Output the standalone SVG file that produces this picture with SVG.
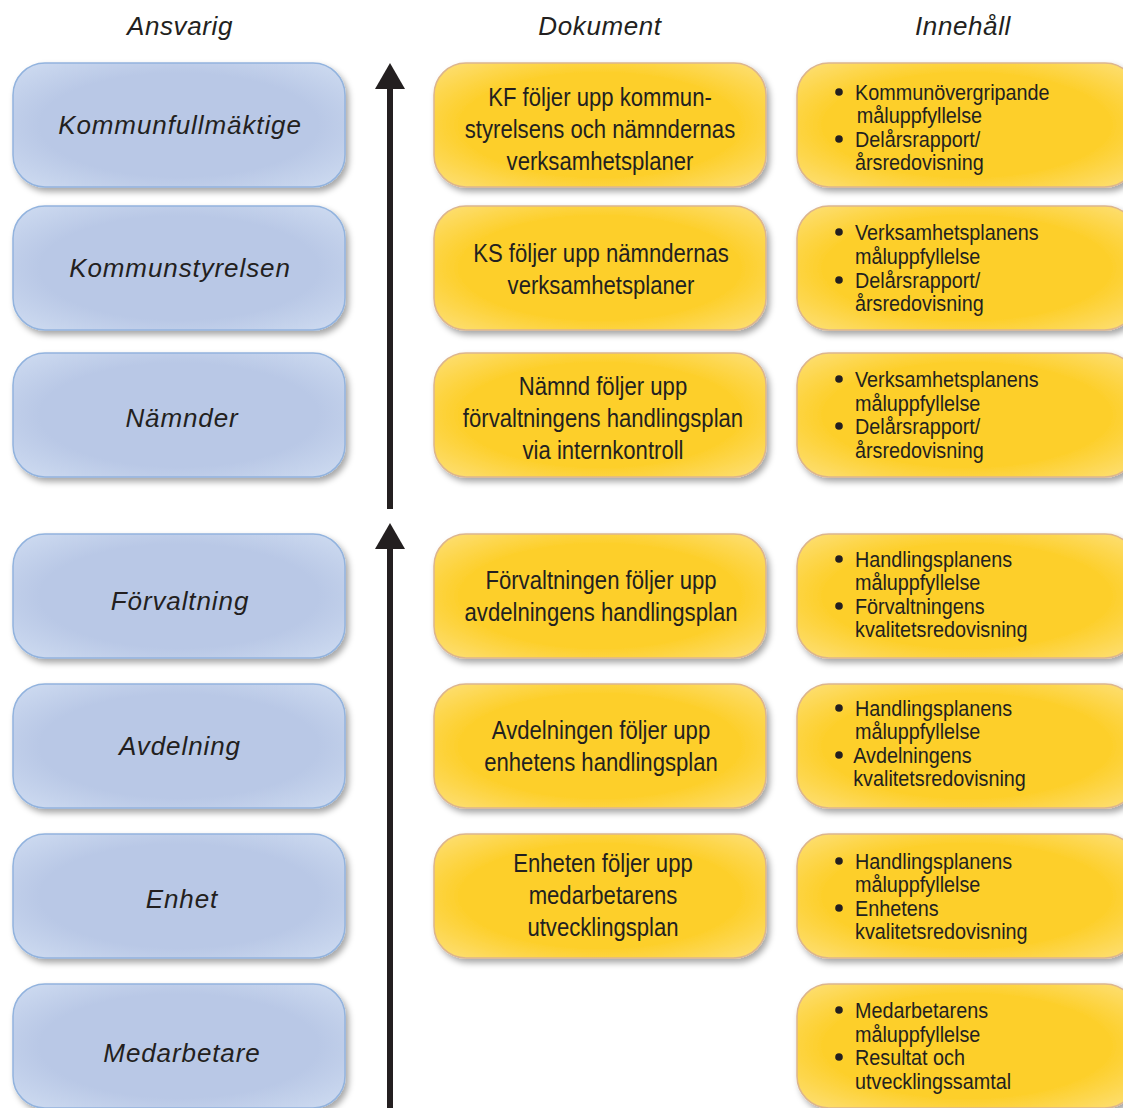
<svg xmlns="http://www.w3.org/2000/svg" width="1123" height="1108" viewBox="0 0 1123 1108">
<defs>
<filter id="sh" x="-10%" y="-10%" width="125%" height="130%">
<feDropShadow dx="3" dy="4" stdDeviation="3" flood-color="#000" flood-opacity="0.35"/>
</filter>
<radialGradient id="bg" cx="50%" cy="50%" r="70%">
<stop offset="0.6" stop-color="#b9c8e6"/>
<stop offset="1" stop-color="#cfdcf1"/>
</radialGradient>
<radialGradient id="yg" cx="50%" cy="50%" r="70%">
<stop offset="0.6" stop-color="#fdcf2a"/>
<stop offset="1" stop-color="#fde07a"/>
</radialGradient>
<style>
.b{fill:url(#bg);stroke:#92b3de;stroke-width:1.5;filter:url(#sh)}
.y{fill:url(#yg);stroke:#dcb58e;stroke-width:1.5;filter:url(#sh)}
.h{font-family:"Liberation Sans",Arial,sans-serif;font-style:italic;font-size:26px;letter-spacing:0.6px;fill:#231f20;text-anchor:middle}
.bt{font-family:"Liberation Sans",Arial,sans-serif;font-style:italic;font-size:26px;letter-spacing:0.9px;fill:#231f20;text-anchor:middle}
.dt{font-family:"Liberation Sans",Arial,sans-serif;font-size:25px;fill:#231f20;text-anchor:middle}
.it{font-family:"Liberation Sans",Arial,sans-serif;font-size:22px;fill:#231f20}
.dot{fill:#231f20}
</style>
</defs>
<rect width="1123" height="1108" fill="#fff"/>
<g id="headers">
<text class="h" x="180" y="35">Ansvarig</text>
<text class="h" x="600" y="35">Dokument</text>
<text class="h" x="963" y="35">Innehåll</text>
</g>
<g id="connectors">
<line x1="390" y1="86" x2="390" y2="509" stroke="#231f20" stroke-width="6"/>
<polygon points="390,63 375,89 405,89" fill="#231f20"/>
<line x1="390" y1="546" x2="390" y2="1108" stroke="#231f20" stroke-width="6"/>
<polygon points="390,523 375,549 405,549" fill="#231f20"/>
</g>
<g id="ansvarig-kf"><rect class="b" x="13" y="63" width="332" height="124" rx="32"/><text class="bt" x="180" y="134">Kommunfullmäktige</text></g>
<g id="ansvarig-ks"><rect class="b" x="13" y="206" width="332" height="124" rx="32"/><text class="bt" x="180" y="277">Kommunstyrelsen</text></g>
<g id="ansvarig-namnder"><rect class="b" x="13" y="353" width="332" height="124" rx="32"/><text class="bt" x="182" y="427">Nämnder</text></g>
<g id="ansvarig-forvaltning"><rect class="b" x="13" y="534" width="332" height="124" rx="32"/><text class="bt" x="180" y="610">Förvaltning</text></g>
<g id="ansvarig-avdelning"><rect class="b" x="13" y="684" width="332" height="124" rx="32"/><text class="bt" x="180" y="755">Avdelning</text></g>
<g id="ansvarig-enhet"><rect class="b" x="13" y="834" width="332" height="124" rx="32"/><text class="bt" x="182" y="908">Enhet</text></g>
<g id="ansvarig-medarbetare"><rect class="b" x="13" y="984" width="332" height="124" rx="32"/><text class="bt" x="182" y="1062">Medarbetare</text></g>

<g id="dok-kf"><rect class="y" x="434" y="63" width="332" height="124" rx="32"/>
<g transform="matrix(0.885,0,0,1,600,0)"><text class="dt" x="0" y="106">KF följer upp kommun-</text><text class="dt" x="0" y="138">styrelsens och nämndernas</text><text class="dt" x="0" y="170">verksamhetsplaner</text></g></g>
<g id="dok-ks"><rect class="y" x="434" y="206" width="332" height="124" rx="32"/>
<g transform="matrix(0.885,0,0,1,601,0)"><text class="dt" x="0" y="262">KS följer upp nämndernas</text><text class="dt" x="0" y="294">verksamhetsplaner</text></g></g>
<g id="dok-namnd"><rect class="y" x="434" y="353" width="332" height="124" rx="32"/>
<g transform="matrix(0.885,0,0,1,603,0)"><text class="dt" x="0" y="395">Nämnd följer upp</text><text class="dt" x="0" y="427">förvaltningens handlingsplan</text><text class="dt" x="0" y="459">via internkontroll</text></g></g>
<g id="dok-forvaltning"><rect class="y" x="434" y="534" width="332" height="124" rx="32"/>
<g transform="matrix(0.885,0,0,1,601,0)"><text class="dt" x="0" y="589">Förvaltningen följer upp</text><text class="dt" x="0" y="621">avdelningens handlingsplan</text></g></g>
<g id="dok-avdelning"><rect class="y" x="434" y="684" width="332" height="124" rx="32"/>
<g transform="matrix(0.885,0,0,1,601,0)"><text class="dt" x="0" y="739">Avdelningen följer upp</text><text class="dt" x="0" y="771">enhetens handlingsplan</text></g></g>
<g id="dok-enhet"><rect class="y" x="434" y="834" width="332" height="124" rx="32"/>
<g transform="matrix(0.885,0,0,1,603,0)"><text class="dt" x="0" y="872">Enheten följer upp</text><text class="dt" x="0" y="904">medarbetarens</text><text class="dt" x="0" y="936">utvecklingsplan</text></g></g>

<g id="inn-kf"><rect class="y" x="797" y="63" width="340" height="124" rx="32"/>
<circle class="dot" cx="839" cy="92" r="3.8"/><circle class="dot" cx="839" cy="139" r="3.8"/>
<g transform="matrix(0.9,0,0,1,855,0)"><text class="it" x="0" y="100">Kommunövergripande</text><text class="it" x="2" y="123">måluppfyllelse</text><text class="it" x="0" y="147">Delårsrapport/</text><text class="it" x="0" y="170">årsredovisning</text></g></g>
<g id="inn-ks"><rect class="y" x="797" y="206" width="340" height="124" rx="32"/>
<circle class="dot" cx="839" cy="232" r="3.8"/><circle class="dot" cx="839" cy="280" r="3.8"/>
<g transform="matrix(0.9,0,0,1,855,0)"><text class="it" x="0" y="240">Verksamhetsplanens</text><text class="it" x="0" y="264">måluppfyllelse</text><text class="it" x="0" y="288">Delårsrapport/</text><text class="it" x="0" y="311">årsredovisning</text></g></g>
<g id="inn-namnd"><rect class="y" x="797" y="353" width="340" height="124" rx="32"/>
<circle class="dot" cx="839" cy="379" r="3.8"/><circle class="dot" cx="839" cy="426" r="3.8"/>
<g transform="matrix(0.9,0,0,1,855,0)"><text class="it" x="0" y="387">Verksamhetsplanens</text><text class="it" x="0" y="411">måluppfyllelse</text><text class="it" x="0" y="434">Delårsrapport/</text><text class="it" x="0" y="458">årsredovisning</text></g></g>
<g id="inn-forvaltning"><rect class="y" x="797" y="534" width="340" height="124" rx="32"/>
<circle class="dot" cx="839" cy="559" r="3.8"/><circle class="dot" cx="839" cy="606" r="3.8"/>
<g transform="matrix(0.9,0,0,1,855,0)"><text class="it" x="0" y="567">Handlingsplanens</text><text class="it" x="0" y="590">måluppfyllelse</text><text class="it" x="0" y="614">Förvaltningens</text><text class="it" x="0" y="637">kvalitetsredovisning</text></g></g>
<g id="inn-avdelning"><rect class="y" x="797" y="684" width="340" height="124" rx="32"/>
<circle class="dot" cx="839" cy="708" r="3.8"/><circle class="dot" cx="839" cy="755" r="3.8"/>
<g transform="matrix(0.9,0,0,1,855,0)"><text class="it" x="0" y="716">Handlingsplanens</text><text class="it" x="0" y="739">måluppfyllelse</text><text class="it" x="-2" y="763">Avdelningens</text><text class="it" x="-2" y="786">kvalitetsredovisning</text></g></g>
<g id="inn-enhet"><rect class="y" x="797" y="834" width="340" height="124" rx="32"/>
<circle class="dot" cx="839" cy="861" r="3.8"/><circle class="dot" cx="839" cy="908" r="3.8"/>
<g transform="matrix(0.9,0,0,1,855,0)"><text class="it" x="0" y="869">Handlingsplanens</text><text class="it" x="0" y="892">måluppfyllelse</text><text class="it" x="0" y="916">Enhetens</text><text class="it" x="0" y="939">kvalitetsredovisning</text></g></g>
<g id="inn-medarbetare"><rect class="y" x="797" y="984" width="340" height="124" rx="32"/>
<circle class="dot" cx="839" cy="1010" r="3.8"/><circle class="dot" cx="839" cy="1057" r="3.8"/>
<g transform="matrix(0.9,0,0,1,855,0)"><text class="it" x="0" y="1018">Medarbetarens</text><text class="it" x="0" y="1042">måluppfyllelse</text><text class="it" x="0" y="1065">Resultat och</text><text class="it" x="0" y="1089">utvecklingssamtal</text></g></g>
</svg>
